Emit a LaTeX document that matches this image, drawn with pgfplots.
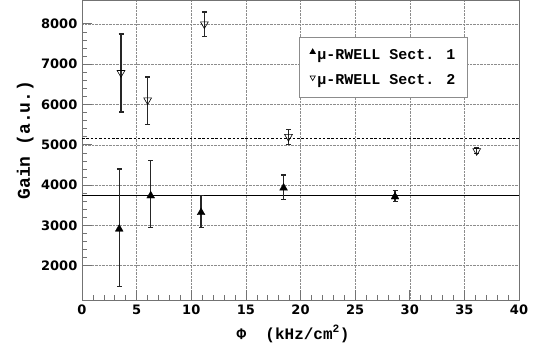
\documentclass[border=0pt]{standalone}
\usepackage{pgfplots}
\pgfplotsset{compat=1.18}
\usepackage{fontspec}
\setmainfont{DejaVu Sans}
\newfontfamily\courb{Liberation Mono}
\newfontfamily\tickf{DejaVu Sans}
\pgfplotstableread{
x y ep em
3.41 2910 1490 1430
6.29 3735 870 785
10.9 3320 430 370
18.45 3930 320 280
28.65 3710 150 110
}\sectone
\pgfplotstableread{
x y ep em
3.57 6785 960 975
6.01 6108 570 600
11.2 7993 300 315
18.9 5200 180 200
36.13 4850 70 70
}\secttwo
\begin{document}
\begin{tikzpicture}[x=1pt,y=1pt]
\useasboundingbox (0,0) rectangle (543,348);
\begin{axis}[
  at={(82pt,48pt)}, anchor=south west,
  scale only axis, width=437pt, height=300pt,
  xmin=0, xmax=40, ymin=1150, ymax=8590,
  xtick={0,5,...,40}, ytick={2000,3000,...,8000},
  minor x tick num=4, minor y tick num=4,
  tick align=inside, major tick length=10pt, minor tick length=5pt,
  tick pos=left,
  grid=major, major grid style={densely dotted, black!45, line width=0.5pt},
  axis line style={black!55, line width=0.8pt},
  tick style={black!55, line width=0.6pt},
  /pgf/number format/assume math mode=true,
  /pgf/number format/set thousands separator={},
  ticklabel style={font=\tickf\bfseries\fontsize{13}{13}\selectfont},
  yticklabel style={anchor=east, inner sep=0pt, xshift=-4.5pt},
  xticklabel style={anchor=north, inner sep=0pt, yshift=-5pt},
  xlabel={Φ~~(kHz/cm\textsuperscript{2})},
  ylabel={Gain (a.u.)},
  xlabel style={font=\courb\bfseries\fontsize{16}{16}\selectfont, at={(axis description cs:0.483,-0.113)}, anchor=center},
  ylabel style={font=\courb\bfseries\fontsize{18}{18}\selectfont, at={(axis description cs:-0.130,0.533)}, anchor=center},
  legend style={at={(rel axis cs:0.497,0.876)}, anchor=north west, draw=black!45, line width=0.8pt,
    font=\courb\bfseries\fontsize{15}{15}\selectfont, row sep=10pt, inner xsep=10.5pt, inner ysep=9.5pt},
  legend cell align=left,
  legend image code/.code={\draw[#1, mark size=3pt] plot coordinates {(0.05cm,0.1cm)};},
]
\addplot[black, line width=1pt, forget plot] coordinates {(0,3740) (40,3740)};
\addplot[black, line width=1pt, dash pattern=on 2.5pt off 1.8pt, forget plot] coordinates {(0,5160) (40,5160)};
\addplot[only marks, black, mark=triangle*, mark size=4.5pt, mark options={solid, fill=black},
  error bars/.cd, y dir=both, y explicit, error bar style={line width=1.2pt, black!85},
  error mark options={rotate=90, mark size=2.5pt, line width=1.2pt, black!85}]
  table[x=x, y=y, y error plus=ep, y error minus=em] {\sectone};
\addlegendentry{μ-RWELL Sect. 1}
\addplot[only marks, black, mark=triangle, mark size=4.5pt, mark options={solid, rotate=180, fill=white, line width=0.6pt},
  error bars/.cd, y dir=both, y explicit, error bar style={line width=1.2pt, black!85},
  error mark options={rotate=90, mark size=2.5pt, line width=1.2pt, black!85}]
  table[x=x, y=y, y error plus=ep, y error minus=em] {\secttwo};
\addlegendentry{μ-RWELL Sect. 2}
\end{axis}
\end{tikzpicture}
\end{document}
